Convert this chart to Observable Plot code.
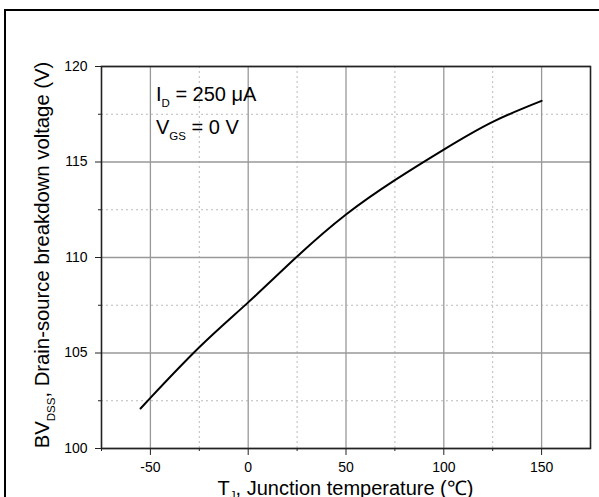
<!DOCTYPE html>
<html>
<head>
<meta charset="utf-8">
<script src="https://cdn.jsdelivr.net/npm/d3@7"></script>
<script src="https://cdn.jsdelivr.net/npm/@observablehq/plot@0.6"></script>
<style>
  html, body { margin: 0; padding: 0; background: #fff; }
  #wrap { position: relative; width: 599px; height: 497px; overflow: hidden; }
  #border { position: absolute; left: 4px; top: 9px; right: -10px; bottom: -10px;
            border-top: 2px solid #000; border-left: 2px solid #000; }
  #chart { position: absolute; left: 0; top: 0; }
</style>
</head>
<body>
<div id="wrap"><div id="border"></div><div id="chart"></div></div>
<script>
// Data
const temps = [-55, -50, -25, 0, 25, 50, 75, 100, 125, 150];
const bvdss = [102.1, 102.65, 105.3, 107.65, 110.05, 112.25, 114.05, 115.65, 117.1, 118.2];
const xMajor = [-50, 0, 50, 100, 150];
const xMinor = [-75, -25, 25, 75, 125, 175];
const yMajor = [100, 105, 110, 115, 120];
const yMinor = [102.5, 107.5, 112.5, 117.5];

const data = temps.map((t, i) => ({t, v: bvdss[i]}));
const font = "'Liberation Sans', Arial, Helvetica, sans-serif";
const fmt = d => String(d);

const plot = Plot.plot({
  width: 599,
  height: 497,
  marginLeft: 101,
  marginRight: 9,
  marginTop: 66,
  marginBottom: 49,
  style: {fontFamily: font, fontSize: "14px", color: "#000", background: "transparent", overflow: "visible"},
  x: {domain: [-75, 175]},
  y: {domain: [100, 120]},
  marks: [
    Plot.ruleX(xMinor, {stroke: "#bbb", strokeWidth: 1, strokeDasharray: "2,3"}),
    Plot.ruleY(yMinor, {stroke: "#bbb", strokeWidth: 1, strokeDasharray: "2,3"}),
    Plot.ruleX(xMajor, {stroke: "#999", strokeWidth: 1.3, strokeDasharray: null}),
    Plot.ruleY(yMajor, {stroke: "#999", strokeWidth: 1.3, strokeDasharray: null}),
    Plot.axisX(xMinor.filter(d => d < 175), {tickSize: 3, tickFormat: () => "", label: null, stroke: "#222"}),
    Plot.axisY(yMinor, {tickSize: 3, tickFormat: () => "", label: null, stroke: "#222"}),
    Plot.axisX(xMajor, {tickSize: 7, tickPadding: 7, tickFormat: fmt, label: null, stroke: "#222", fill: "#000"}),
    Plot.axisY(yMajor, {tickSize: 6, tickPadding: 8, tickFormat: fmt, label: null, stroke: "#222", fill: "#000"}),
    Plot.line(data, {x: "t", y: "v", stroke: "#000", strokeWidth: 2, curve: "natural"}),
    Plot.frame({stroke: "#222", strokeWidth: 1.6})
  ]
});

document.getElementById("chart").appendChild(plot);

const svg = d3.select(plot);
const sx = plot.scale("x"), sy = plot.scale("y");

// Annotation
const ax = sx.apply(-46.9);
const t1 = svg.append("text").attr("x", ax).attr("y", sy.apply(118.17)).attr("text-anchor", "start")
  .attr("font-family", font).attr("font-size", 20).attr("fill", "#000");
t1.append("tspan").text("I");
t1.append("tspan").attr("font-size", 11.5).attr("dy", 6).text("D");
t1.append("tspan").attr("dy", -6).text(" = 250 μA");

const t2 = svg.append("text").attr("x", ax).attr("y", sy.apply(116.45)).attr("text-anchor", "start")
  .attr("font-family", font).attr("font-size", 20).attr("fill", "#000");
t2.append("tspan").text("V");
t2.append("tspan").attr("font-size", 11.5).attr("dy", 6).text("GS");
t2.append("tspan").attr("dy", -6).text(" = 0 V");

// X axis label
const xl = svg.append("text").attr("x", (sx.range[0] + sx.range[1]) / 2).attr("y", 494.5)
  .attr("text-anchor", "middle").attr("font-family", font).attr("font-size", 20).attr("fill", "#000");
xl.append("tspan").text("T");
xl.append("tspan").attr("font-size", 11.5).attr("dy", 4).text("J");
xl.append("tspan").attr("dy", -4).text(", Junction temperature (℃)");

// Y axis label
const yl = svg.append("text").attr("transform", `translate(49,255) rotate(-90)`)
  .attr("text-anchor", "middle").attr("font-family", font).attr("font-size", 20.3).attr("fill", "#000");
yl.append("tspan").text("BV");
yl.append("tspan").attr("font-size", 11.5).attr("dy", 6).text("DSS");
yl.append("tspan").attr("dy", -6).text(", Drain-source breakdown voltage (V)");
</script>
</body>
</html>
